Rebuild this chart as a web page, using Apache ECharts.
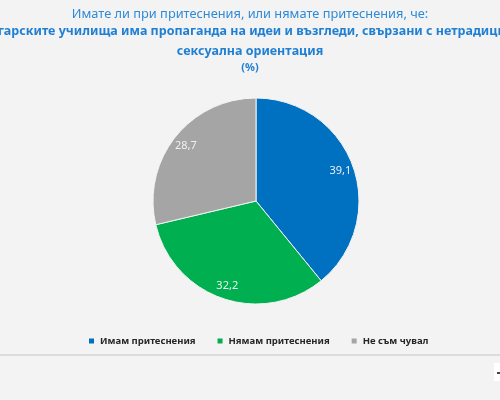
<!DOCTYPE html>
<html>
<head>
<meta charset="utf-8">
<script src="https://cdn.jsdelivr.net/npm/echarts@6/dist/echarts.min.js"></script>
<style>
  html, body { margin: 0; padding: 0; background: #f3f3f3; }
  #chart { width: 500px; height: 400px; }
</style>
</head>
<body>
<div id="chart"></div>
<script>
const categories = ["Имам притеснения", "Нямам притеснения", "Не съм чувал"];
const values = [39.1, 32.2, 28.7];
const colors = ["#0070c0", "#00b050", "#a5a5a5"];
const titleLines = [
  "Имате ли при притеснения, или нямате притеснения, че:",
  "В българските училища има пропаганда на идеи и възгледи, свързани с нетрадиционна",
  "сексуална ориентация",
  "(%)"
];

const font = "'Noto Sans', sans-serif";
const pieData = categories.map((name, i) => ({
  name: name,
  value: values[i],
  itemStyle: { color: colors[i] }
}));

const chart = echarts.init(document.getElementById("chart"));
chart.setOption({
  backgroundColor: "#f3f3f3",
  animation: false,
  title: [
    { text: titleLines[0], left: "center", top: 3,
      textStyle: { fontFamily: font, fontSize: 12.8, fontWeight: "normal", color: "#2f8ad6" } },
    { text: titleLines[1], left: "center", top: 20,
      textStyle: { fontFamily: font, fontSize: 12.5, fontWeight: "bold", color: "#1f7fd3" } },
    { text: titleLines[2], left: "center", top: 40,
      textStyle: { fontFamily: font, fontSize: 12.5, fontWeight: "bold", color: "#1f7fd3" } },
    { text: titleLines[3], left: "center", top: 57,
      textStyle: { fontFamily: font, fontSize: 11, fontWeight: "bold", color: "#1f7fd3" } }
  ],
  legend: {
    data: categories,
    left: 82,
    top: 331,
    icon: "rect",
    itemWidth: 7,
    itemHeight: 7,
    itemGap: 20,
    textStyle: { fontFamily: font, fontSize: 9.5, fontWeight: "bold", color: "#262626" }
  },
  series: [
    {
      name: "pie",
      type: "pie",
      center: [256, 201],
      radius: [0, 103],
      startAngle: 90,
      clockwise: true,
      silent: true,
      itemStyle: { borderColor: "#f3f3f3", borderWidth: 1 },
      label: { show: false },
      labelLine: { show: false },
      data: pieData
    },
    {
      name: "labels",
      type: "pie",
      center: [256, 201],
      radius: [70, 103],
      startAngle: 90,
      clockwise: true,
      silent: true,
      itemStyle: { color: "rgba(0,0,0,0)" },
      label: {
        show: true,
        position: "inside",
        fontFamily: font,
        fontSize: 11,
        color: "#eef0f4",
        formatter: p => String(p.value).replace(".", ",")
      },
      labelLine: { show: false },
      data: categories.map((name, i) => ({ name: name, value: values[i] }))
    }
  ],
  graphic: [
    { type: "line", shape: { x1: 0, y1: 355, x2: 500, y2: 355 },
      style: { stroke: "#dcdcdc", lineWidth: 2 } },
    { type: "rect", shape: { x: 494, y: 363, width: 6, height: 18 },
      style: { fill: "#ffffff" } },
    { type: "rect", shape: { x: 497, y: 372, width: 3, height: 2 },
      style: { fill: "#444444" } }
  ]
});
</script>
</body>
</html>
